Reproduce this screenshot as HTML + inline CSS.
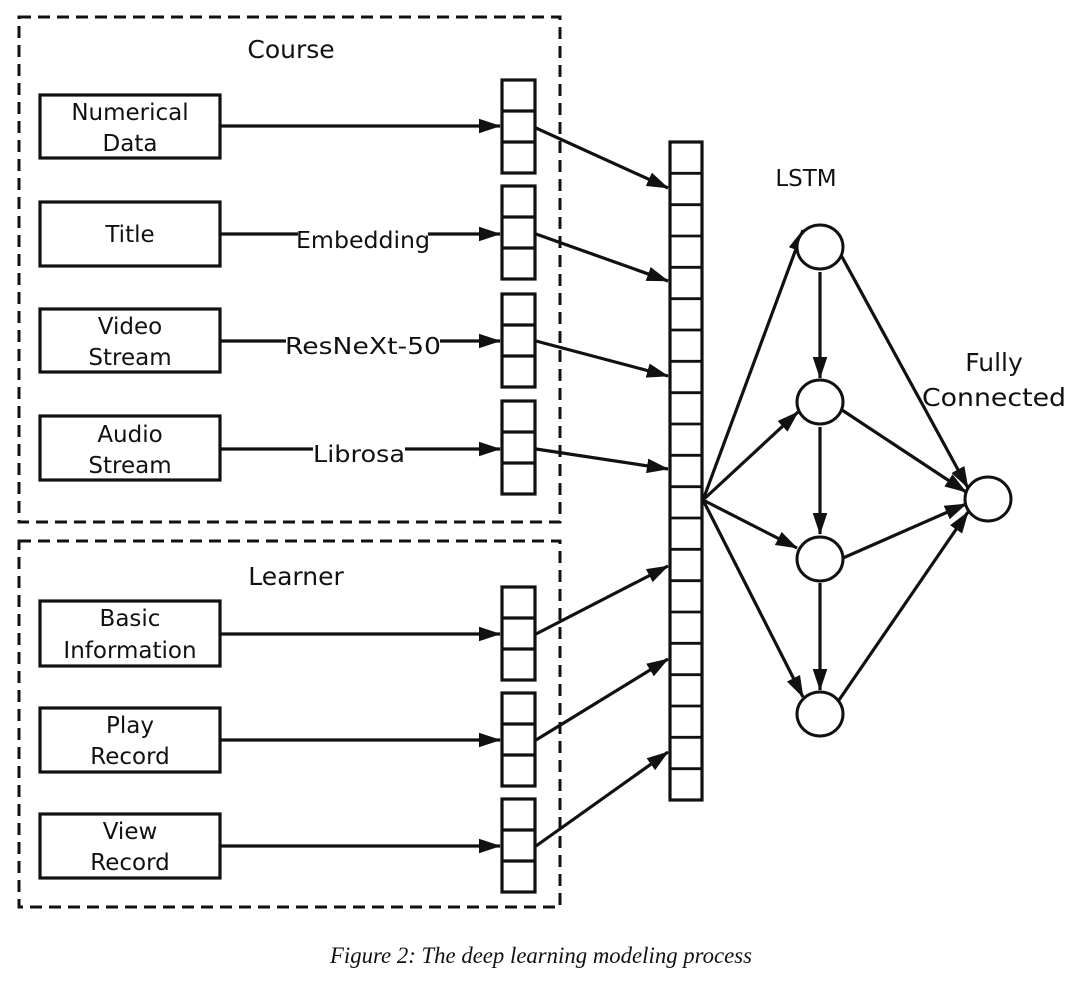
<!DOCTYPE html>
<html><head><meta charset="utf-8"><style>
html,body{margin:0;padding:0;background:#fff;}
svg{display:block;}
text{font-family:"DejaVu Sans","Liberation Sans",sans-serif;fill:#111;}
</style></head><body>
<svg width="1080" height="982" viewBox="0 0 1080 982" xmlns="http://www.w3.org/2000/svg">
<defs>
<marker id="ah" viewBox="0 0 24 16" refX="23" refY="8" markerWidth="22" markerHeight="15" orient="auto" markerUnits="userSpaceOnUse">
<path d="M0,0 L24,8 L0,16 z" fill="#111"/>
</marker>
</defs>
<g fill="none" stroke="#111">
<rect x="19" y="17" width="541" height="505" stroke-width="3" stroke-dasharray="12,7"/>
<rect x="19" y="541" width="541" height="366" stroke-width="3" stroke-dasharray="12,7"/>
<g stroke-width="3.2">
<rect x="40" y="95" width="180" height="63"/>
<rect x="40" y="202" width="180" height="64"/>
<rect x="40" y="309" width="180" height="63"/>
<rect x="40" y="416" width="180" height="64"/>
<rect x="40" y="601" width="180" height="65"/>
<rect x="40" y="708" width="180" height="64"/>
<rect x="40" y="814" width="180" height="64"/>
</g>
<g stroke-width="3.2">
<rect x="502" y="80" width="33" height="93"/><line x1="502" y1="111" x2="535" y2="111"/><line x1="502" y1="142" x2="535" y2="142"/>
<rect x="502" y="186" width="33" height="93"/><line x1="502" y1="217" x2="535" y2="217"/><line x1="502" y1="248" x2="535" y2="248"/>
<rect x="502" y="294" width="33" height="93"/><line x1="502" y1="325" x2="535" y2="325"/><line x1="502" y1="356" x2="535" y2="356"/>
<rect x="502" y="401" width="33" height="93"/><line x1="502" y1="432" x2="535" y2="432"/><line x1="502" y1="463" x2="535" y2="463"/>
<rect x="502" y="587" width="33" height="93"/><line x1="502" y1="618" x2="535" y2="618"/><line x1="502" y1="649" x2="535" y2="649"/>
<rect x="502" y="693" width="33" height="93"/><line x1="502" y1="724" x2="535" y2="724"/><line x1="502" y1="755" x2="535" y2="755"/>
<rect x="502" y="799" width="33" height="93"/><line x1="502" y1="830" x2="535" y2="830"/><line x1="502" y1="861" x2="535" y2="861"/>
</g>
<rect x="670" y="142" width="32" height="658" stroke-width="3.2"/>
<g stroke-width="2.8">
<line x1="670" y1="173.3" x2="702" y2="173.3"/><line x1="670" y1="204.7" x2="702" y2="204.7"/><line x1="670" y1="236" x2="702" y2="236"/>
<line x1="670" y1="267.3" x2="702" y2="267.3"/><line x1="670" y1="298.7" x2="702" y2="298.7"/><line x1="670" y1="330" x2="702" y2="330"/>
<line x1="670" y1="361.3" x2="702" y2="361.3"/><line x1="670" y1="392.7" x2="702" y2="392.7"/><line x1="670" y1="424" x2="702" y2="424"/>
<line x1="670" y1="455.3" x2="702" y2="455.3"/><line x1="670" y1="486.7" x2="702" y2="486.7"/><line x1="670" y1="518" x2="702" y2="518"/>
<line x1="670" y1="549.3" x2="702" y2="549.3"/><line x1="670" y1="580.7" x2="702" y2="580.7"/><line x1="670" y1="612" x2="702" y2="612"/>
<line x1="670" y1="643.3" x2="702" y2="643.3"/><line x1="670" y1="674.7" x2="702" y2="674.7"/><line x1="670" y1="706" x2="702" y2="706"/>
<line x1="670" y1="737.3" x2="702" y2="737.3"/><line x1="670" y1="768.7" x2="702" y2="768.7"/>
</g>
<g stroke-width="3.2" marker-end="url(#ah)">
<line x1="220" y1="126" x2="500" y2="126"/>
<line x1="220" y1="234" x2="500" y2="234"/>
<line x1="220" y1="341" x2="500" y2="341"/>
<line x1="220" y1="449" x2="500" y2="449"/>
<line x1="220" y1="634" x2="500" y2="634"/>
<line x1="220" y1="740" x2="500" y2="740"/>
<line x1="220" y1="846" x2="500" y2="846"/>
<line x1="536" y1="128" x2="668" y2="188"/>
<line x1="536" y1="234" x2="668" y2="281"/>
<line x1="536" y1="341" x2="668" y2="376"/>
<line x1="536" y1="449" x2="668" y2="469"/>
<line x1="536" y1="634" x2="668" y2="566"/>
<line x1="536" y1="740" x2="668" y2="659"/>
<line x1="536" y1="846" x2="668" y2="752"/>
<line x1="703" y1="500" x2="803" y2="230"/>
<line x1="703" y1="500" x2="798" y2="412"/>
<line x1="703" y1="500" x2="797" y2="548"/>
<line x1="703" y1="500" x2="803" y2="697"/>
<line x1="820" y1="272" x2="820" y2="378"/>
<line x1="820" y1="427" x2="820" y2="534"/>
<line x1="820" y1="583" x2="820" y2="690"/>
<line x1="841" y1="255" x2="968" y2="488"/>
<line x1="842" y1="410" x2="966" y2="492"/>
<line x1="843" y1="558" x2="966" y2="504"/>
<line x1="837" y1="703" x2="968" y2="512"/>
</g>
<g stroke-width="3" fill="#fff">
<ellipse cx="820" cy="247" rx="23" ry="22"/>
<ellipse cx="820" cy="402" rx="23" ry="22"/>
<ellipse cx="820" cy="559" rx="23" ry="22"/>
<ellipse cx="820" cy="714" rx="23" ry="22"/>
<ellipse cx="988" cy="499" rx="23" ry="22"/>
</g>
</g>
<rect x="298" y="222" width="130" height="26" fill="#fff"/>
<rect x="286" y="328" width="154" height="26" fill="#fff"/>
<rect x="313" y="436" width="92" height="26" fill="#fff"/>
<g font-size="23" text-anchor="middle">
<text x="291" y="58" font-size="25">Course</text>
<text x="296" y="585" font-size="25">Learner</text>
<text x="130" y="120">Numerical</text><text x="130" y="151">Data</text>
<text x="130" y="242">Title</text>
<text x="130" y="334">Video</text><text x="130" y="365">Stream</text>
<text x="130" y="442">Audio</text><text x="130" y="473">Stream</text>
<text x="130" y="626">Basic</text><text x="130" y="658">Information</text>
<text x="130" y="733">Play</text><text x="130" y="764">Record</text>
<text x="130" y="839">View</text><text x="130" y="870">Record</text>
<text x="363" y="248" textLength="134" lengthAdjust="spacingAndGlyphs">Embedding</text>
<text x="363" y="354" textLength="156" lengthAdjust="spacingAndGlyphs">ResNeXt-50</text>
<text x="359" y="462" textLength="92" lengthAdjust="spacingAndGlyphs">Librosa</text>
<text x="806" y="186">LSTM</text>
<text x="994" y="371" font-size="25">Fully</text>
<text x="994" y="406" font-size="25" textLength="144" lengthAdjust="spacingAndGlyphs">Connected</text>
</g>
<text x="541" y="963" font-size="23" text-anchor="middle" font-style="italic" textLength="422" lengthAdjust="spacingAndGlyphs" style="font-family:'Liberation Serif',serif">Figure 2:  The deep learning modeling process</text>
</svg>
</body></html>
